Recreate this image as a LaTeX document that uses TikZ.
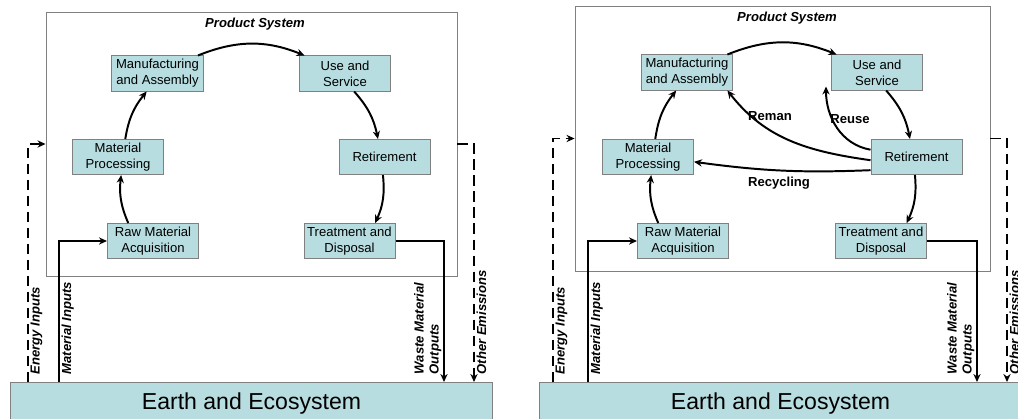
\documentclass[tikz,border=0pt]{standalone}
\usepackage{fontspec}
\setmainfont{Liberation Sans}
\usetikzlibrary{arrows.meta, positioning}
\definecolor{ecofill}{HTML}{B7DDE0}
\definecolor{boxgray}{HTML}{808080}
\tikzset{
    stage/.style={rectangle, draw=boxgray, line width=0.7pt, fill=ecofill, minimum width=2.275cm, minimum height=0.875cm, inner sep=1pt, align=center, font=\fontsize{9.3}{11.3}\selectfont},
    sysbox/.style={rectangle, draw=boxgray, line width=0.6pt},
    earthbox/.style={rectangle, draw=boxgray, line width=0.7pt, fill=ecofill, minimum width=12.025cm, minimum height=1.1cm, font=\fontsize{16.4}{19}\selectfont},
    systitle/.style={font=\fontsize{9.3}{11}\selectfont\bfseries\itshape},
    looplbl/.style={font=\fontsize{9.3}{11}\selectfont\bfseries, inner sep=1pt},
    flowlbl/.style={font=\fontsize{9.3}{10.6}\selectfont\bfseries\itshape, rotate=90, inner sep=1pt, align=left},
    cyclearrow/.style={-{Stealth[length=2mm, width=1.8mm]}, line width=1.4pt},
    matflow/.style={-{Stealth[length=2mm, width=1.8mm]}, line width=1.1pt},
    enflow/.style={-{Stealth[length=2mm, width=1.8mm]}, line width=1.3pt, dash pattern=on 2.6mm off 1.4mm},
}

\begin{document}
\begin{tikzpicture}[x=0.025cm, y=0.025cm]
\useasboundingbox (0,0) rectangle (1018,-419);
\clip (0,0) rectangle (1018,-419);

% ── Left panel: linear life cycle ──
\node[sysbox, minimum width=10.275cm, minimum height=6.6cm] (l-sys) at (251.5,-144) {};
\node[systitle] (l-title) at (255,-24) {Product System};

\node[stage] (l-mfg) at (157.5,-73.5) {Manufacturing\\and Assembly};
\node[stage] (l-use) at (345,-73.5) {Use and\\Service};
\node[stage] (l-proc) at (118,-157) {Material\\Processing};
\node[stage] (l-retire) at (384.5,-157) {Retirement};
\node[stage] (l-raw) at (153,-241) {Raw Material\\Acquisition};
\node[stage] (l-treat) at (349.5,-241) {Treatment and\\Disposal};

\node[earthbox] (l-earth) at (251.5,-404) {Earth and Ecosystem};

\draw[cyclearrow] (l-raw.144) to[bend left=15] (l-proc.280);
\draw[cyclearrow] (l-proc.68) to[bend left=15] (l-mfg.239);
\draw[cyclearrow] (l-mfg.24) to[bend left=22] (l-use.156);
\draw[cyclearrow] (l-use.297) to[bend left=15] (l-retire.110);
\draw[cyclearrow] (l-retire.265) to[bend left=15] (l-treat.35);

% flows to and from the earth
\coordinate (l-ein) at (28,-382);
\coordinate (l-min) at (59,-382);
\coordinate (l-wout) at (444,-382);
\coordinate (l-eout) at (474,-382);
\draw[enflow] (l-ein) |- (l-sys.west);
\draw[matflow] (l-min) |- (l-raw.west);
\draw[matflow] (l-treat.east) -| (l-wout);
\draw[enflow] (l-sys.east) -| (l-eout);

\node[flowlbl, anchor=north west] (l-elbl) at (29,-376) {Energy Inputs};
\node[flowlbl, anchor=north west] (l-mlbl) at (60,-376) {Material Inputs};
\node[flowlbl, anchor=south west] (l-wlbl) at (443,-376) {Waste Material\\Outputs};
\node[flowlbl, anchor=north west] (l-olbl) at (475,-376) {Other Emissions};

% ── Right panel: closed loops ──
\node[sysbox, minimum width=10.375cm, minimum height=6.625cm] (r-sys) at (782.5,-138.5) {};
\node[systitle] (r-title) at (787,-18) {Product System};

\node[stage] (r-mfg) at (687,-72.5) {Manufacturing\\and Assembly};
\node[stage] (r-use) at (877,-72.5) {Use and\\Service};
\node[stage] (r-proc) at (648,-157) {Material\\Processing};
\node[stage] (r-retire) at (916.5,-157) {Retirement};
\node[stage] (r-raw) at (683,-241) {Raw Material\\Acquisition};
\node[stage] (r-treat) at (881,-241) {Treatment and\\Disposal};

\node[earthbox] (r-earth) at (780.5,-404) {Earth and Ecosystem};

\draw[cyclearrow] (r-raw.144) to[bend left=15] (r-proc.280);
\draw[cyclearrow] (r-proc.68) to[bend left=15] (r-mfg.239);
\draw[cyclearrow] (r-mfg.24) to[bend left=22] (r-use.156);
\draw[cyclearrow] (r-use.297) to[bend left=15] (r-retire.110);
\draw[cyclearrow] (r-retire.265) to[bend left=15] (r-treat.35);

% reuse, reman and recycling loops
\draw[cyclearrow] (r-retire.171) to[out=170, in=-90] ([shift={(-5,4)}]r-use.south west);
\draw[cyclearrow] (r-retire.184) to[out=172, in=-52] (r-mfg.336);
\draw[cyclearrow] (r-retire.196) to[bend left=5] (r-proc.354);
\node[looplbl] (r-reuse) at (850,-119) {Reuse};
\node[looplbl] (r-reman) at (770,-116) {Reman};
\node[looplbl] (r-recyc) at (779,-183) {Recycling};

% flows to and from the earth
\coordinate (r-ein) at (553,-382);
\coordinate (r-min) at (588,-382);
\coordinate (r-wout) at (977,-382);
\coordinate (r-eout) at (1007,-382);
\draw[enflow] (r-ein) |- (r-sys.west);
\draw[matflow] (r-min) |- (r-raw.west);
\draw[matflow] (r-treat.east) -| (r-wout);
\draw[enflow] (r-sys.east) -| (r-eout);

\node[flowlbl, anchor=north west] (r-elbl) at (554,-376) {Energy Inputs};
\node[flowlbl, anchor=north west] (r-mlbl) at (589,-376) {Material Inputs};
\node[flowlbl, anchor=south west] (r-wlbl) at (976,-376) {Waste Material\\Outputs};
\node[flowlbl, anchor=north west] (r-olbl) at (1008,-376) {Other Emissions};

\end{tikzpicture}
\end{document}
